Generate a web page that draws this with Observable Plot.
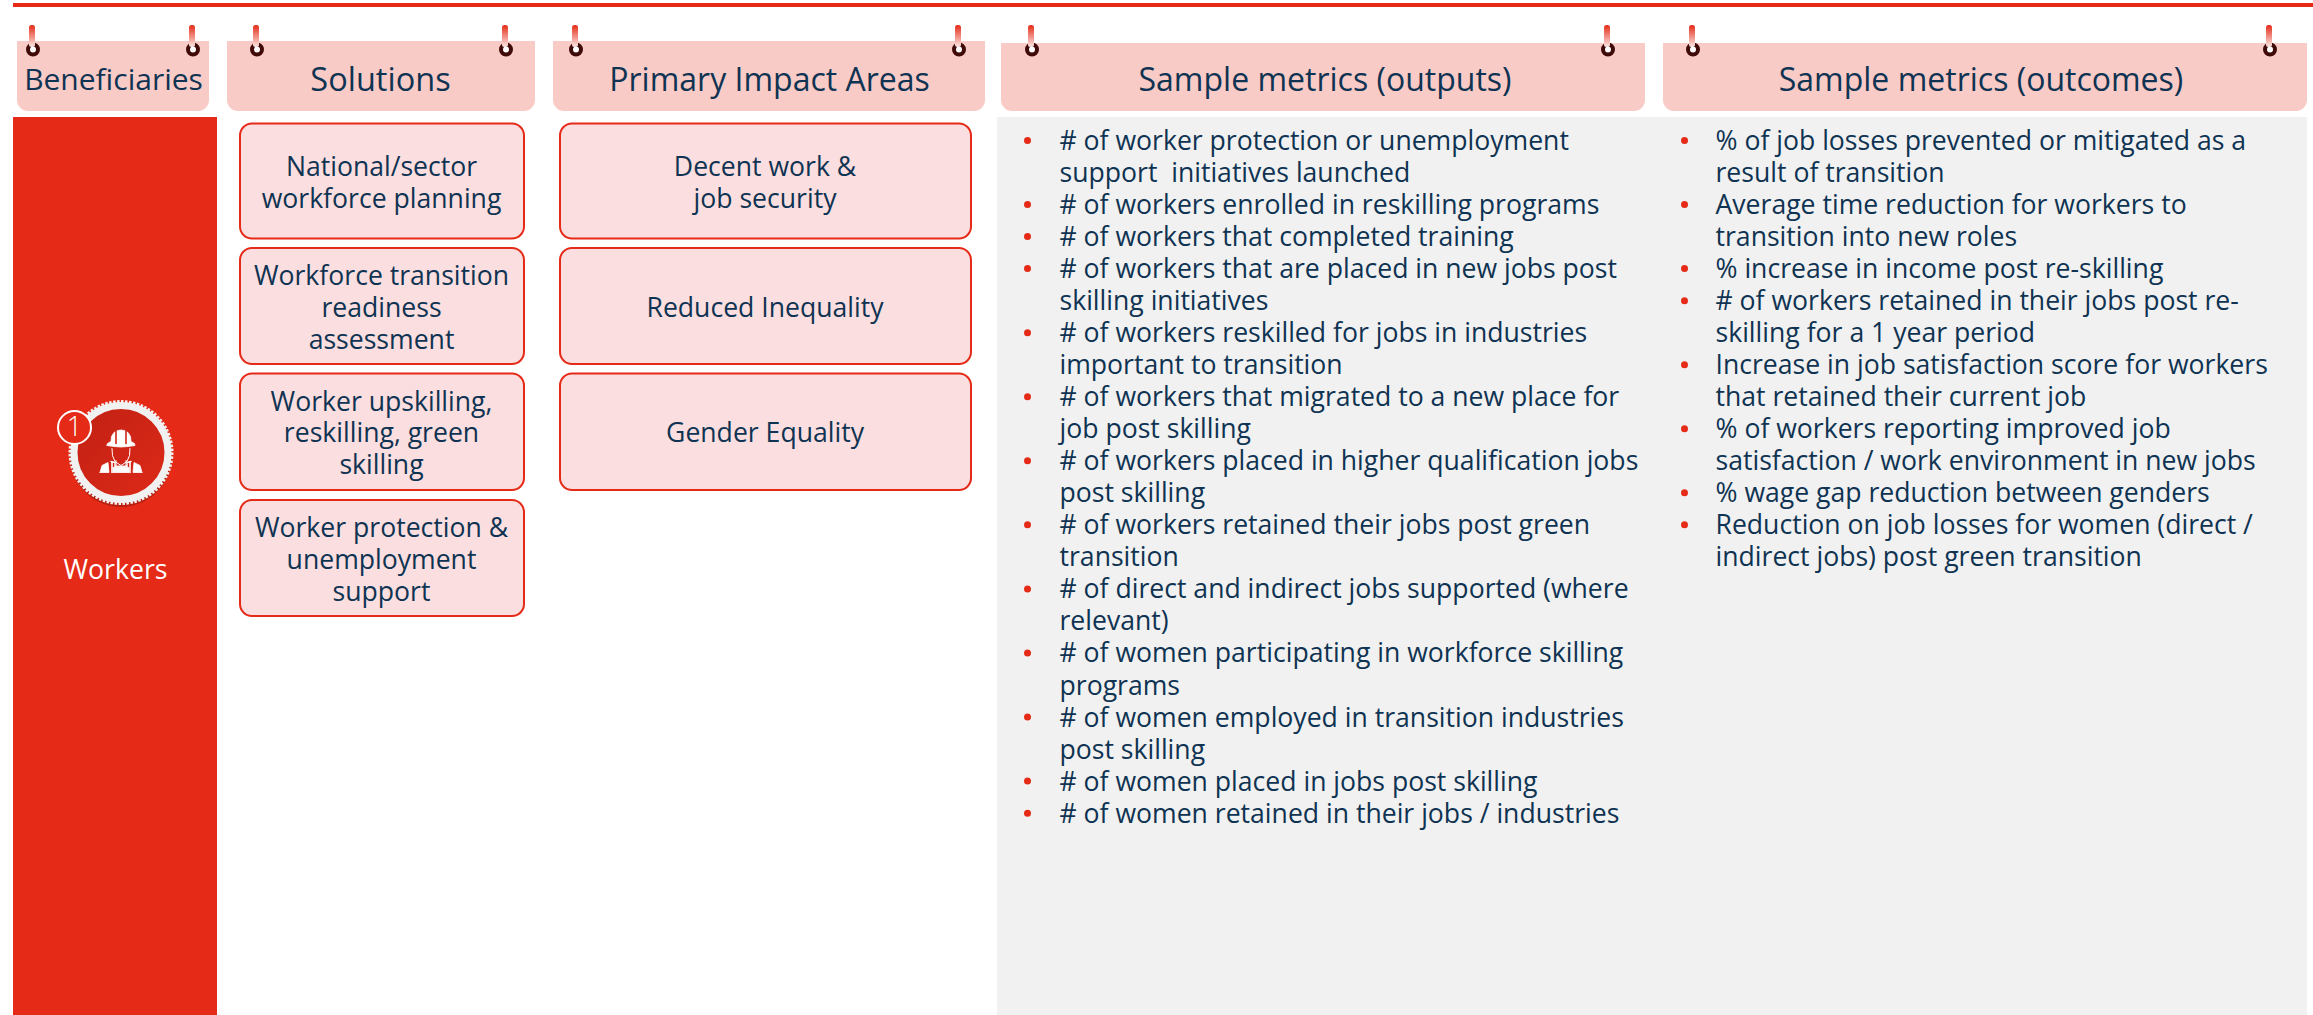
<!DOCTYPE html>
<html><head><meta charset="utf-8">
<style>html,body{margin:0;padding:0;background:#fff}svg{display:block}</style>
<script src="https://cdn.jsdelivr.net/npm/d3@7"></script>
<script src="https://cdn.jsdelivr.net/npm/@observablehq/plot@0.6"></script>
</head><body><div id="c"></div>
<script>
const headers = ["Beneficiaries","Solutions","Primary Impact Areas","Sample metrics (outputs)","Sample metrics (outcomes)"];
const beneficiary = "Workers";
const solutions = ["National/sector\nworkforce planning","Workforce transition\nreadiness\nassessment","Worker upskilling,\nreskilling, green\nskilling","Worker protection &\nunemployment\nsupport"];
const impacts = ["Decent work &\njob security","Reduced Inequality","Gender Equality"];
const outputs = [
 ["# of worker protection or unemployment","support  initiatives launched"],
 ["# of workers enrolled in reskilling programs"],
 ["# of workers that completed training"],
 ["# of workers that are placed in new jobs post","skilling initiatives"],
 ["# of workers reskilled for jobs in industries","important to transition"],
 ["# of workers that migrated to a new place for","job post skilling"],
 ["# of workers placed in higher qualification jobs","post skilling"],
 ["# of workers retained their jobs post green","transition"],
 ["# of direct and indirect jobs supported (where","relevant)"],
 ["# of women participating in workforce skilling","programs"],
 ["# of women employed in transition industries","post skilling"],
 ["# of women placed in jobs post skilling"],
 ["# of women retained in their jobs / industries"]
];
const outcomes = [
 ["% of job losses prevented or mitigated as a","result of transition"],
 ["Average time reduction for workers to","transition into new roles"],
 ["% increase in income post re-skilling"],
 ["# of workers retained in their jobs post re-","skilling for a 1 year period"],
 ["Increase in job satisfaction score for workers","that retained their current job"],
 ["% of workers reporting improved job","satisfaction / work environment in new jobs"],
 ["% wage gap reduction between genders"],
 ["Reduction on job losses for women (direct /","indirect jobs) post green transition"]
];

// layout (separate from the content above)
const W = 2313, H = 1015, FONT = "Open Sans";
const RED = "#e52a17", INK = "#0f3352", HEAD = "#f9cbc6", BOX = "#fbdfe0", GREY = "#f1f1f1", DISC = "#d02416";
const hdr = [
 {x1:17,x2:209,y1:41,pa:32,pb:192,fs:30,dx:0},
 {x1:227,x2:535,y1:41,pa:256,pb:505,fs:32.5,dx:-1},
 {x1:553,x2:985,y1:41,pa:575,pb:958,fs:32,dx:0},
 {x1:1001,x2:1645,y1:43,pa:1031,pb:1607,fs:32,dx:1.5},
 {x1:1663,x2:2307,y1:43,pa:1692,pb:2269,fs:32,dx:-4.5}
].map((d,i)=>({...d,y2:111,label:headers[i]}));
const slots = [[123.5,238.5],[248,364],[373.5,490],[500,616]];
const boxes = [
 ...solutions.map((label,i)=>({label,x1:240,x2:524,y1:slots[i][0],y2:slots[i][1]})),
 ...impacts.map((label,i)=>({label,x1:560,x2:971,y1:slots[i][0],y2:slots[i][1]}))
];
const LH = 32.03, Y0 = 141;
function rows(items,xb,xt){
  const out=[],dots=[];let n=0;
  for(const it of items){
    dots.push({x:xb,y:Y0+n*LH});
    for(const t of it){out.push({x:xt,y:Y0+n*LH,t});n++;}
  }
  return {out,dots};
}
const L = rows(outputs,1027,1059), R = rows(outcomes,1684,1715);
const pins = hdr.flatMap(h=>[h.pa,h.pb].map(x=>({x})));
const cx=120.5, cy=452;
const at=(pts)=>pts.map(p=>[cx+p[0],cy+p[1]]);
const mir=(pts)=>pts.map(p=>[-p[0],p[1]]);
const helmet=at([[-14,-7],[-13.5,-9],[-10,-11],[-9.5,-16],[-7,-20],[-3,-22],[0,-22.5],[3,-22],[7,-20],[9.5,-16],[10,-11],[13.5,-9],[14,-7],[7,-6],[0,-5.5],[-7,-6]]);
const face=at([[-9,-4],[-8.5,3],[-6,9],[0,13],[6,9],[8.5,3],[9,-4]]);
const shL=[[-21,20],[-19,13],[-13,10],[-12,20]];
const strapL=[[-10,9],[-6,10],[-6,14],[6,14]];
const bib=at([[-8,15],[8,15],[8,20],[-8,20]]);
const poly=(pts)=>Plot.line([...pts,pts[0]],{x:d=>d[0],y:d=>d[1],fill:"#fff",stroke:"#fff",strokeWidth:.8});
const stroke=(pts,w=1,c="#fff")=>Plot.line(pts,{x:d=>d[0],y:d=>d[1],stroke:c,strokeWidth:w});

const chart = Plot.plot({
  width:W,height:H,margin:0,
  x:{domain:[0,W],range:[0,W],axis:null},
  y:{domain:[0,H],range:[0,H],axis:null},
  style:{background:"#fff",fontFamily:FONT},
  marks:[
    () => {
      const s=d3.create("svg:defs");
      const g=s.append("linearGradient").attr("id","pin").attr("x1",0).attr("x2",0).attr("y1",0).attr("y2",1);
      g.append("stop").attr("offset","0").attr("stop-color","#e52a17");
      g.append("stop").attr("offset","1").attr("stop-color","#fbe8e5");
      const f=s.append("linearGradient").attr("id","disc").attr("x1",0).attr("y1",0).attr("x2",1).attr("y2",1);
      f.append("stop").attr("offset","0").attr("stop-color","#c02114");
      f.append("stop").attr("offset","1").attr("stop-color","#de2918");
      return s.node();
    },
    Plot.rect([{}],{x1:()=>13,x2:()=>W,y1:()=>3,y2:()=>7,fill:RED}),
    Plot.rect([{}],{x1:()=>13,x2:()=>217,y1:()=>117,y2:()=>H,fill:RED}),
    Plot.rect([{}],{x1:()=>997,x2:()=>2307,y1:()=>117,y2:()=>H,fill:GREY}),
    Plot.rect(hdr,{x1:"x1",x2:"x2",y1:"y1",y2:"y2",fill:HEAD,rx:11}),
    Plot.rect(hdr,{x1:"x1",x2:"x2",y1:"y1",y2:d=>d.y1+30,fill:HEAD}),
    Plot.dot(pins,{x:d=>d.x+.5,y:()=>49,r:5,fill:"#fff",stroke:"#3f0a08",strokeWidth:4}),
    Plot.rect(pins,{x1:d=>d.x-3,x2:d=>d.x+3,y1:()=>25,y2:()=>47,fill:"url(#pin)",rx:2.5}),
    Plot.text(hdr,{x:d=>(d.x1+d.x2)/2+d.dx,y:()=>80,text:"label",fontSize:"fs",fontFamily:FONT,fill:INK}),
    Plot.rect(boxes,{x1:"x1",x2:"x2",y1:"y1",y2:"y2",fill:BOX,stroke:RED,strokeWidth:2,rx:12}),
    Plot.text(boxes,{x:d=>(d.x1+d.x2)/2-1,y:d=>(d.y1+d.y2)/2,text:"label",fontSize:26.6,lineHeight:1.2,fontFamily:FONT,fill:INK}),
    Plot.dot([...L.dots,...R.dots],{x:"x",y:d=>d.y-1,r:3.5,fill:RED}),
    Plot.text(L.out,{x:"x",y:"y",text:"t",textAnchor:"start",fontSize:26.6,fontFamily:FONT,fill:INK}),
    Plot.text(R.out,{x:"x",y:"y",text:"t",textAnchor:"start",fontSize:26.6,fontFamily:FONT,fill:INK}),
    Plot.dot([{}],{x:()=>cx,y:()=>cy+3.5,r:51,fill:"#a81d10",fillOpacity:.75}),
    Plot.dot([{}],{x:()=>cx,y:()=>cy,r:51,fill:"none",stroke:GREY,strokeWidth:3,strokeDasharray:"2.5 1.5"}),
    Plot.dot([{}],{x:()=>cx,y:()=>cy,r:47,fill:"url(#disc)",stroke:GREY,strokeWidth:7}),
    poly(helmet),
    stroke(at([[-5,-21],[-5,-9]]),1.6,DISC),stroke(at([[5,-21],[5,-9]]),1.6,DISC),
    stroke(face),
    stroke(at([[-5,8],[-5,14]])),stroke(at([[5,8],[5,14]])),
    poly(at(shL)),poly(at(mir(shL))),
    stroke(at(strapL),1.4),stroke(at(mir(strapL)),1.4),
    stroke(at([[-9,10],[-9,20]]),1.6),stroke(at([[9,10],[9,20]]),1.6),
    poly(bib),
    Plot.dot([{}],{x:()=>74,y:()=>427,r:16.5,fill:RED,stroke:"#fff",strokeWidth:2}),
    Plot.text(["1"],{x:()=>74,y:()=>427,text:d=>d,fontSize:27,fontWeight:300,fontFamily:FONT,fill:"#fff"}),
    Plot.text([beneficiary],{x:()=>115,y:()=>570,text:d=>d,fontSize:26.6,fontFamily:FONT,fill:"#fff"})
  ]
});
document.getElementById("c").append(chart);
</script></body></html>
